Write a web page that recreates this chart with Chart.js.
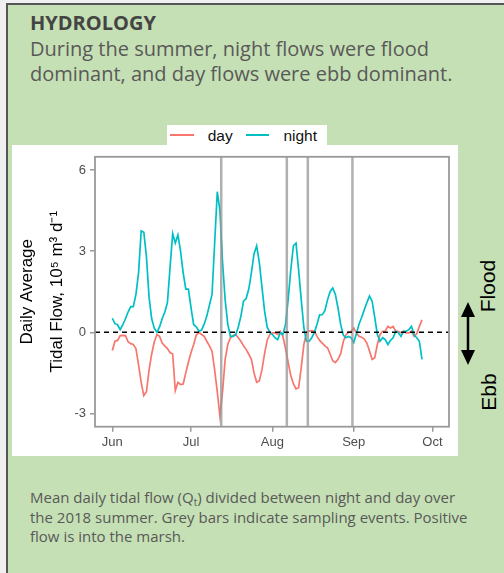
<!DOCTYPE html>
<html>
<head>
<meta charset="utf-8">
<script src="https://cdn.jsdelivr.net/npm/chart.js@4"></script>
<style>
  body { margin: 0; width: 504px; height: 573px; background: #efefef; overflow: hidden; position: relative; font-family: 'Open Sans', sans-serif; }
  #box { position: absolute; left: 6px; top: 3px; right: 0; bottom: 0; background: #c5e0b4; border-left: 2px solid #555; border-top: 2px solid #555; }
  #head { position: absolute; left: 30px; top: 10px; font-size: 20px; line-height: 25.5px; color: #595959; }
  #head b { color: #444; }
  #caption { position: absolute; left: 30px; top: 488px; font-size: 15px; line-height: 19.5px; color: #595959; }
  #caption sub { font-size: 10px; line-height: 0; vertical-align: -3px; }
  #panel { position: absolute; left: 12px; top: 145px; width: 446px; height: 311px; background: #fff; }
  #legend { position: absolute; left: 167px; top: 125px; width: 160px; height: 20px; background: #fff; display: flex; align-items: center; font-family: 'Liberation Sans', Arial, sans-serif; font-size: 15.5px; color: #111; }
  #legend .key { width: 25px; height: 2px; margin-left: 3px; margin-right: 14px; }
  #legend .lab { line-height: 20px; padding-top: 2px; margin-right: 10px; }
  .side { position: absolute; font-family: 'Liberation Sans', Arial, sans-serif; font-size: 21px; color: #000; transform: translate(-50%, -50%) rotate(-90deg); white-space: nowrap; }
</style>
</head>
<body>
<div id="box"></div>
<div id="head"><b>HYDROLOGY</b><br>During the summer, night flows were flood<br>dominant, and day flows were ebb dominant.</div>
<div id="panel"><canvas id="chart" width="446" height="311"></canvas></div>
<div id="legend"></div>
<div class="side" style="left:488px; top:286px;">Flood</div>
<div class="side" style="left:489px; top:392px;">Ebb</div>
<svg style="position:absolute; left:458px; top:300px;" width="20" height="68">
  <line x1="10" y1="12" x2="10" y2="54" stroke="#000" stroke-width="2.5"/>
  <polygon points="10,2 3,17 17,17" fill="#000"/>
  <polygon points="10,65 3,50 17,50" fill="#000"/>
</svg>
<div id="caption">Mean daily tidal flow (Q<sub>t</sub>) divided between night and day over<br>the 2018 summer. Grey bars indicate sampling events. Positive<br>flow is into the marsh.</div>
<script>
// days since 1 June 2018
var dayOffsets = [];
for (let i = 0; i < 119; i++) dayOffsets.push(i);

var nightFlow = [0.52,0.32,0.28,0.10,0.28,0.50,0.75,0.95,0.95,1.40,
                 2.20,3.75,3.70,2.80,1.30,0.50,0.15,0.00,0.20,0.50,
                 0.75,1.10,2.40,3.65,3.30,3.60,3.00,2.20,1.60,1.60,
                 0.90,0.28,0.20,0.04,0.08,0.30,0.60,1.00,1.40,3.30,
                 5.20,4.50,2.60,1.20,0.30,-0.15,-0.15,-0.10,0.20,0.60,
                 1.15,1.25,1.60,2.20,2.90,3.20,2.60,1.70,0.80,0.20,
                 0.00,-0.08,-0.20,-0.27,-0.02,-0.08,0.30,1.20,2.30,3.20,
                 3.30,2.30,1.20,0.16,-0.33,-0.33,-0.20,0.00,0.30,0.65,
                 0.65,0.80,1.20,1.50,1.64,1.40,0.90,0.30,-0.10,-0.20,
                 -0.15,-0.20,-0.38,-0.05,0.30,0.55,0.83,1.10,1.34,1.15,
                 0.55,-0.08,-0.33,-0.20,-0.27,-0.45,-0.30,-0.20,0.04,-0.02,
                 -0.15,0.04,0.04,0.10,0.22,-0.10,-0.20,-0.33,-1.00];

var dayFlow = [-0.67,-0.33,-0.30,-0.12,-0.11,-0.12,-0.35,-0.42,-0.45,-0.60,
               -1.20,-1.85,-2.34,-2.20,-1.40,-0.80,-0.35,-0.08,-0.15,-0.40,
               -0.50,-0.60,-0.75,-0.80,-2.15,-1.85,-1.93,-1.91,-1.50,-1.10,
               -0.75,-0.45,-0.10,0.00,-0.08,-0.15,-0.33,-0.50,-0.70,-1.40,
               -2.20,-3.10,-2.20,-1.00,-0.45,-0.20,-0.12,-0.08,-0.20,-0.33,
               -0.50,-0.63,-0.81,-1.00,-1.50,-1.85,-1.80,-1.40,-0.80,-0.30,
               -0.08,-0.02,-0.02,-0.08,0.04,-0.15,-0.60,-1.10,-1.60,-1.90,
               -2.09,-2.05,-1.30,-0.45,0.00,0.05,0.06,0.04,-0.15,-0.30,
               -0.40,-0.50,-0.57,-0.80,-1.05,-1.12,-1.00,-0.80,-0.35,-0.10,
               0.00,0.04,0.16,-0.02,-0.15,-0.18,-0.25,-0.40,-0.69,-1.00,
               -0.94,-0.45,-0.08,0.04,0.04,0.22,0.16,0.22,0.04,0.04,
               -0.02,0.04,-0.02,-0.02,0.04,-0.15,-0.05,0.22,0.46];

var samplingDays = [41.5, 66.5, 74.5, 91.5];
var monthTicks = [0, 30, 61, 92, 122];
var monthLabels = ['Jun', 'Jul', 'Aug', 'Sep', 'Oct'];
var yTicks = [-3, 0, 3, 6];

var tickFont = {family: "'Liberation Sans', Arial, sans-serif", size: 13};

var extras = {
    id: 'extras',
    afterDatasetsDraw(chart) {
        var ctx = chart.ctx, a = chart.chartArea, x = chart.scales.x, y = chart.scales.y;
        ctx.save();
        ctx.strokeStyle = 'rgba(150,150,150,0.75)';
        ctx.lineWidth = 2.5;
        samplingDays.forEach(function (d) {
            var px = x.getPixelForValue(d);
            ctx.beginPath();
            ctx.moveTo(px, a.top);
            ctx.lineTo(px, a.bottom);
            ctx.stroke();
        });
        var py = y.getPixelForValue(0);
        ctx.strokeStyle = '#000';
        ctx.lineWidth = 1.4;
        ctx.setLineDash([5, 4]);
        ctx.beginPath();
        ctx.moveTo(a.left, py);
        ctx.lineTo(a.right, py);
        ctx.stroke();
        ctx.setLineDash([]);
        ctx.strokeStyle = '#999';
        ctx.lineWidth = 1.8;
        ctx.strokeRect(a.left, a.top, a.width, a.height);
        ctx.restore();
    }
};

var chart = new Chart(document.getElementById('chart'), {
    type: 'line',
    data: {
        datasets: [{
            label: 'day',
            data: dayOffsets.map((d, i) => ({x: d, y: dayFlow[i]})),
            borderColor: '#F8766D',
            borderWidth: 1.7,
            order: 1
        }, {
            label: 'night',
            data: dayOffsets.map((d, i) => ({x: d, y: nightFlow[i]})),
            borderColor: '#00BFC4',
            borderWidth: 1.7,
            order: 0
        }]
    },
    options: {
        responsive: false,
        animation: false,
        layout: {padding: {top: 8, right: 9, left: 0, bottom: 0}},
        elements: {point: {radius: 0}, line: {tension: 0}},
        plugins: {legend: {display: false}, tooltip: {enabled: false}},
        scales: {
            x: {
                type: 'linear',
                min: -6.6,
                max: 128.3,
                afterBuildTicks: s => { s.ticks = monthTicks.map(v => ({value: v})); },
                afterFit: s => { s.height = 29.3; },
                grid: {drawOnChartArea: false, drawTicks: true, tickLength: 5, color: '#999', lineWidth: 1.5},
                border: {display: false},
                ticks: {
                    padding: 3,
                    color: '#4d4d4d',
                    font: tickFont,
                    maxRotation: 0,
                    callback: v => monthLabels[monthTicks.indexOf(v)]
                }
            },
            y: {
                min: -3.49,
                max: 6.49,
                afterBuildTicks: s => { s.ticks = yTicks.map(v => ({value: v})); },
                afterFit: s => { s.width = 83; },
                grid: {drawOnChartArea: false, drawTicks: true, tickLength: 5, color: '#999', lineWidth: 1.5},
                border: {display: false},
                ticks: {padding: 4, color: '#4d4d4d', font: tickFont, callback: v => String(v)},
                title: {
                    display: true,
                    text: ['Daily Average', 'Tidal Flow, 10\u2075 m\u00b3 d\u207b\u00b9'],
                    color: '#000',
                    font: {family: "'Liberation Sans', Arial, sans-serif", size: 17, lineHeight: 30 / 17},
                    padding: {top: 0, bottom: 0}
                }
            }
        }
    },
    plugins: [extras]
});

// legend from the datasets
var legend = document.getElementById('legend');
chart.data.datasets.forEach(function (ds) {
    var key = document.createElement('span');
    key.className = 'key';
    key.style.background = ds.borderColor;
    var lab = document.createElement('span');
    lab.className = 'lab';
    lab.textContent = ds.label;
    legend.appendChild(key);
    legend.appendChild(lab);
});
</script>
</body>
</html>
